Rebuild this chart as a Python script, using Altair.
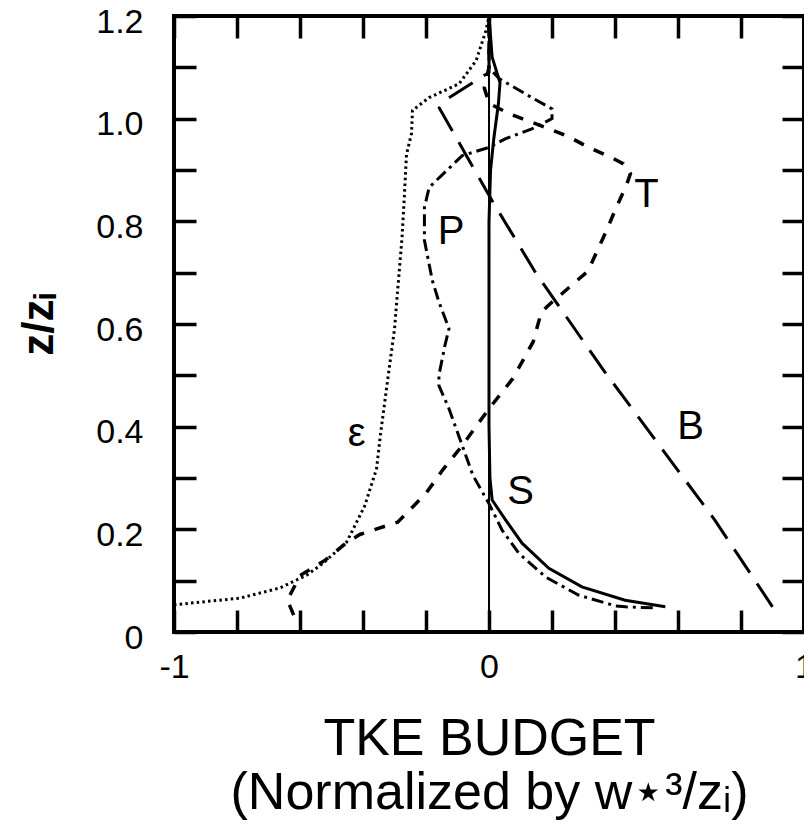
import altair as alt
import pandas as pd

# ---------------- data ----------------
# dissipation (epsilon) - dotted
eps_x = [-1.0, -0.79, -0.663, -0.578, -0.527, -0.452, -0.395, -0.357, -0.344, -0.322,
         -0.30, -0.293, -0.276, -0.269, -0.262, -0.246, -0.243, -0.19, -0.095, -0.041, -0.01, 0.0]
eps_z = [0.053, 0.066, 0.086, 0.111, 0.134, 0.175, 0.245, 0.318, 0.387, 0.49,
         0.59, 0.643, 0.769, 0.846, 0.93, 0.971, 1.016, 1.041, 1.068, 1.113, 1.171, 1.2]

# transport (T) - short dashes
t_x = [-0.62, -0.64, -0.60, -0.52, -0.45, -0.41, -0.29, -0.20, -0.148, -0.089, 0.0, 0.076,
       0.14, 0.166, 0.204, 0.224, 0.314, 0.373, 0.404, 0.436, 0.449, 0.427, 0.389, 0.316,
       0.259, 0.221, 0.17, 0.105, 0.063, 0.0, -0.015, 0.0, 0.0]
t_z = [0.033, 0.062, 0.11, 0.14, 0.175, 0.19, 0.214, 0.27, 0.315, 0.36, 0.435, 0.494,
       0.565, 0.623, 0.645, 0.655, 0.703, 0.782, 0.827, 0.87, 0.893, 0.912, 0.924, 0.944,
       0.963, 0.973, 0.985, 1.0, 1.01, 1.03, 1.06, 1.1, 1.2]

# pressure (P) - dash-dot
p_x = [0.52, 0.433, 0.40, 0.284, 0.18, 0.095, 0.042, 0.0, -0.051, -0.089, -0.127, -0.159,
       -0.159, -0.14, -0.127, -0.159, -0.18, -0.205, -0.205, -0.19, -0.085, 0.0, 0.053,
       0.136, 0.2, 0.2, 0.136, 0.032, 0.0, 0.0]
p_z = [0.047, 0.049, 0.051, 0.072, 0.107, 0.153, 0.198, 0.25, 0.305, 0.37, 0.435, 0.48,
       0.50, 0.558, 0.591, 0.643, 0.685, 0.763, 0.827, 0.866, 0.928, 0.944, 0.961,
       0.98, 1.0, 1.019, 1.041, 1.078, 1.1, 1.2]

# shear (S) - solid
s_x = [0.56, 0.432, 0.295, 0.19, 0.105, 0.053, 0.01, 0.003, 0.0, 0.0, 0.005, 0.015, 0.03, 0.035, 0.01, 0.0]
s_z = [0.049, 0.062, 0.088, 0.124, 0.173, 0.218, 0.257, 0.30, 0.40, 0.80, 0.90, 0.96, 1.03, 1.07, 1.12, 1.2]

# buoyancy (B) - long dashes
b_x = [0.90, 0.717, 0.36, 0.148, 0.01, -0.158, -0.142, -0.041, 0.0, 0.0]
b_z = [0.049, 0.218, 0.513, 0.70, 0.84, 1.021, 1.035, 1.074, 1.09, 1.2]

# zero reference line
zero_x = [0.0, 0.0]
zero_z = [0.0, 1.2]

# curve labels
label_text = ["\u03b5", "P", "T", "B", "S"]
label_x = [-0.42, -0.12, 0.50, 0.64, 0.10]
label_z = [0.385, 0.78, 0.852, 0.40, 0.273]

# ticks
x_ticks = [-1.0, -0.8, -0.6, -0.4, -0.2, 0.0, 0.2, 0.4, 0.6, 0.8, 1.0]
y_ticks = [0.0, 0.1, 0.2, 0.3, 0.4, 0.5, 0.6, 0.7, 0.8, 0.9, 1.0, 1.1, 1.2]

x_title = ["TKE BUDGET", "(Normalized by w\u22c6\u00b3/z\u1d62)"]
y_title = "z/z\u1d62"

FONT = "Liberation Sans"


def frame(xs, zs):
    return pd.DataFrame({"x": xs, "z": zs, "i": list(range(len(xs)))})


xscale = alt.Scale(domain=[-1, 1], nice=False, zero=False)
yscale = alt.Scale(domain=[0, 1.2], nice=False, zero=False)
TICK_IN = {"expr": "-22"}

common_axis = dict(domain=False, grid=False, tickSize=TICK_IN, tickWidth=3.5,
                   tickColor="black", labelOverlap=False, labelFlush=False)

x_bottom = alt.Axis(orient="bottom", values=x_ticks,
                    labelExpr="datum.value == -1 ? '-1' : (datum.value == 0 ? '0' : (datum.value == 1 ? '1' : ''))",
                    labelFont=FONT, labelFontSize=34, labelColor="black", labelPadding=40,
                    title=x_title, titleFont=FONT, titleFontSize=52, titleFontWeight="normal",
                    titleColor="black", titleLineHeight=54, titlePadding=29, **common_axis)
y_left = alt.Axis(orient="left", values=y_ticks,
                  labelExpr="round(datum.value * 10) % 2 == 0 ? (datum.value == 0 ? '0' : format(datum.value, '.1f')) : ''",
                  labelFont=FONT, labelFontSize=34, labelColor="black", labelPadding=53, labelOffset=6,
                  title=y_title, titleFont=FONT, titleFontSize=44, titleFontWeight="bold",
                  titleColor="black", titlePadding=34, **common_axis)
x_top = alt.Axis(orient="top", values=x_ticks, labels=False, title=None, **common_axis)
y_right = alt.Axis(orient="right", values=y_ticks, labels=False, title=None, **common_axis)


def curve(xs, zs, dash, width=3, xaxis=None, yaxis=None):
    mark = alt.Chart(frame(xs, zs)).mark_line(color="black", strokeWidth=width,
                                              **({"strokeDash": dash} if dash else {}))
    return mark.encode(
        x=alt.X("x:Q", scale=xscale, axis=xaxis),
        y=alt.Y("z:Q", scale=yscale, axis=yaxis),
        order=alt.Order("i:Q"),
    )


zero_layer = curve(zero_x, zero_z, None, width=2, xaxis=x_top, yaxis=y_right)
eps_layer = curve(eps_x, eps_z, [2.5, 3.2], width=3, xaxis=x_bottom, yaxis=y_left)
t_layer = curve(t_x, t_z, [11, 11], width=3.5)
p_layer = curve(p_x, p_z, [12, 5, 3, 5], width=3)
s_layer = curve(s_x, s_z, None, width=3)
b_layer = curve(b_x, b_z, [28, 13], width=3)

labels = alt.Chart(pd.DataFrame({"x": label_x, "z": label_z, "t": label_text})).mark_text(
    font=FONT, fontSize=40, color="black", align="center", baseline="middle"
).encode(
    x=alt.X("x:Q", scale=xscale, axis=None),
    y=alt.Y("z:Q", scale=yscale, axis=None),
    text="t:N",
)

chart = alt.layer(zero_layer, eps_layer, t_layer, p_layer, s_layer, b_layer, labels).resolve_axis(
    x="independent", y="independent"
).properties(
    width=630, height=616,
    autosize=alt.AutoSizeParams(type="none"),
    padding={"left": 166, "top": 8, "right": 0, "bottom": 190},
    background="white",
).configure_view(stroke="black", strokeWidth=4)

chart.save("out.html", embed_options={"renderer": "svg", "actions": False})
